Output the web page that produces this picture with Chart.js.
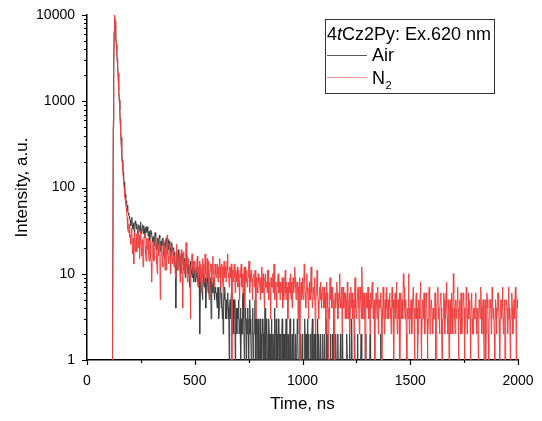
<!DOCTYPE html>
<html>
<head>
<meta charset="utf-8">
<script src="https://cdn.jsdelivr.net/npm/chart.js@4.4.1/dist/chart.umd.min.js"></script>
<style>
  html, body { margin: 0; padding: 0; background: #ffffff; }
  #wrap { width: 542px; height: 421px; position: relative; }
</style>
</head>
<body>
<div id="wrap"><canvas id="c"></canvas></div>
<script>
// ---- Data (photon counts per 2 ns channel) ----
const timeStepNs = 2;              // channel width; channel i is at time i * timeStepNs

const airCounts = [
  // 0-98 ns
  0,0,0,0,0,0,0,0,0,0,0,0,0,0,0,0,0,0,0,0,0,0,0,0,0,0,0,0,0,0,0,0,0,0,0,0,0,0,0,0,0,0,0,0,0,0,0,0,0,0,
  // 100-198 ns
  0,0,0,0,0,0,0,0,0,0,
  0,500,2300,6200,9600,8300,7000,5700,4600,3800,
  3100,2600,2100,1700,1350,1050,820,620,480,380,
  310,250,210,175,150,130,115,102,92,83,
  76,70,66,62,58,54,50,48,46,44,
  // 200-298
  42,38,36,40,45,37,33,35,39,34,30,36,41,38,35,33,38,31,28,34,
  37,35,33,30,40,36,29,31,34,37,31,29,36,33,26,30,33,35,30,32,
  35,31,27,30,31,28,24,29,32,30,
  // 300-398
  29,26,23,25,27,24,21,25,30,27,24,22,19,23,26,24,22,25,28,26,
  18,22,24,23,21,26,25,20,16,21,23,22,20,24,26,23,17,20,22,25,
  19,21,24,20,14,18,21,23,18,20,
  // 400-498
  20,17,15,18,18,12,4,11,17,15,13,16,19,15,12,14,16,13,10,12,
  14,16,17,14,11,13,15,12,9,11,13,15,16,12,10,13,12,9,7,11,
  14,12,11,10,9,12,13,11,8,10,
  // 500-598
  11,9,8,10,9,11,10,8,7,9,12,10,2,7,9,8,8,6,5,7,
  10,8,7,9,9,5,4,7,8,10,8,6,11,7,5,6,7,9,3,5,
  8,7,6,8,9,6,5,7,7,6,
  // 600-698
  6,5,4,6,7,5,3,4,5,7,8,5,4,6,3,4,2,5,6,5,
  7,4,3,5,3,4,6,5,4,3,1,4,5,3,4,6,3,2,4,5,
  2,3,5,4,1,3,4,3,2,4,
  // 700-798
  3,4,5,2,2,3,4,1,3,2,2,5,6,3,3,1,2,4,3,2,
  0,3,2,4,2,1,3,2,5,3,2,1,0,2,3,4,1,2,2,3,
  5,2,1,3,2,0,2,3,1,2,
  // 800-898
  1,2,3,1,2,0,1,3,2,2,0,1,2,4,2,1,3,2,0,1,
  2,1,3,2,1,0,2,1,3,2,0,2,1,1,2,4,1,0,2,3,
  1,2,1,0,3,2,1,2,0,2,
  // 900-998
  0,1,2,3,1,2,1,0,2,1,0,2,3,1,1,0,2,1,2,0,
  1,3,1,2,0,1,2,1,0,2,3,1,1,0,2,1,0,1,3,2,
  1,0,1,2,0,1,2,1,1,0,
  // 1000-1098
  2,1,0,1,1,3,2,0,1,2,1,0,3,1,2,0,1,1,0,2,
  1,0,2,3,1,0,1,2,0,1,2,1,0,0,1,3,1,0,2,1,
  0,1,2,1,0,1,0,2,1,0,
  // 1100-1198
  0,1,2,0,1,0,3,1,0,2,1,0,1,1,0,2,0,1,0,1,
  2,0,1,3,0,1,0,2,1,0,0,1,2,0,1,0,1,0,2,1,
  0,0,1,2,0,1,0,1,0,1,
  // 1200-1298
  1,0,0,2,1,0,1,0,0,1,2,0,1,0,3,1,0,0,1,0,
  1,2,0,0,1,0,1,0,2,0,1,0,0,1,0,1,2,0,0,1,
  0,1,0,0,1,0,2,0,1,0,
  // 1300-1398
  0,1,0,0,1,0,0,2,0,1,0,0,1,0,0,1,0,2,0,0,
  1,0,0,1,0,0,0,1,0,1,0,0,2,0,0,1,0,0,1,0,
  0,1,0,0,0,1,0,0,1,0,
  // 1400-1498
  0,0,1,0,0,0,1,0,0,0,0,1,0,0,1,0,0,0,0,1,0,0,0,1,0,0,0,0,1,0,0,1,0,0,0,0,0,1,0,0,0,1,0,0,0,0,1,0,0,0,
  // 1500-1598
  0,0,0,1,0,0,0,0,1,0,0,0,0,0,1,0,0,1,0,0,0,0,0,0,0,1,0,0,0,0,1,0,0,0,0,0,1,0,0,0,0,0,1,0,0,0,0,0,1,0,
  // 1600-1698
  0,1,0,0,0,0,0,1,0,0,0,0,0,1,0,0,0,0,0,1,0,0,0,0,1,0,0,0,0,0,0,1,0,0,0,0,1,0,0,0,0,0,0,0,1,0,0,0,0,1,
  // 1700-1798
  0,0,0,0,0,1,0,0,0,0,1,0,0,0,0,0,0,1,0,0,0,0,1,0,0,0,0,0,0,1,0,0,0,0,0,1,0,0,0,0,0,0,1,0,0,0,0,1,0,0,
  // 1800-1898
  0,0,0,0,1,0,0,0,0,0,0,1,0,0,0,0,1,0,0,0,0,0,0,0,0,1,0,0,0,0,1,0,0,0,0,0,0,0,1,0,0,0,0,1,0,0,0,0,0,0,
  // 1900-2000
  1,0,0,0,0,0,1,0,0,0,0,0,0,0,1,0,0,0,0,0,0,1,0,0,0,0,0,0,1,0,0,0,0,0,0,1,0,0,0,0,0,0,1,0,0,0,0,0,0,1,0
];

const n2Counts = [
  // 0-98 ns
  0,0,0,0,0,0,0,0,0,0,0,0,0,0,0,0,0,0,0,0,0,0,0,0,0,0,0,0,0,0,0,0,0,0,0,0,0,0,0,0,0,0,0,0,1,0,0,0,0,0,
  // 100-198 ns
  0,0,0,0,0,0,0,0,0,0,
  0,600,2500,6500,10000,8600,7200,5800,4700,3800,
  3100,2600,2100,1650,1300,1000,800,600,450,350,
  280,230,190,160,135,115,100,88,78,70,
  62,58,52,45,40,33,30,38,36,27,
  // 200-298
  28,24,22,31,34,19,17,26,25,13,30,27,21,18,26,29,18,23,32,20,
  24,28,15,22,27,31,20,16,23,25,12,19,25,28,29,21,17,14,22,26,
  19,23,26,17,14,20,21,24,15,13,
  // 300-398
  8,15,18,21,24,14,15,19,20,23,27,16,13,10,19,22,16,18,22,20,
  5,12,17,19,21,14,12,18,25,20,15,11,18,21,11,16,28,19,16,13,
  14,22,20,15,10,18,17,21,13,15,
  // 400-498
  19,14,12,16,15,10,9,14,22,17,14,11,11,15,17,13,8,12,16,19,
  13,9,4,12,18,15,10,13,14,17,23,16,12,8,9,14,15,12,11,9,
  3,10,13,16,17,12,10,14,12,11,
  // 500-598
  14,11,9,12,11,13,16,10,7,11,12,14,10,8,13,11,6,12,15,9,
  11,13,8,10,17,12,10,9,12,15,9,11,14,8,5,10,11,13,13,9,
  8,12,16,11,10,8,7,13,12,10,
  // 600-698
  9,11,13,10,8,12,11,9,15,12,7,10,10,13,12,8,6,11,14,10,
  9,12,11,8,8,14,17,11,10,9,7,12,12,10,9,13,0,8,11,9,
  8,12,13,9,6,11,10,8,9,12,
  // 700-798
  7,9,11,8,5,10,9,11,13,7,8,10,6,9,10,12,4,8,12,9,
  8,11,7,9,9,12,14,8,6,10,8,11,10,7,5,9,9,10,7,8,
  11,6,3,9,8,7,6,10,10,8,
  // 800-898
  7,9,5,8,9,6,12,8,6,10,8,5,4,9,10,7,7,8,6,11,
  11,8,5,7,8,6,3,9,9,7,7,10,6,8,13,9,5,7,8,6,
  4,8,7,9,10,6,6,8,5,7,
  // 900-998
  8,6,6,9,4,7,9,5,7,8,11,6,5,8,6,7,3,5,8,6,
  7,9,10,6,5,8,4,6,9,7,6,8,12,9,7,5,5,8,8,6,
  3,7,6,9,1,5,7,8,5,6,
  // 1000-1098
  9,6,5,7,13,8,6,4,4,7,10,6,7,5,3,6,8,5,5,7,
  12,8,6,4,4,7,7,5,9,6,2,5,6,8,11,6,5,4,3,6,
  7,5,8,6,4,5,6,7,5,4,
  // 1100-1198
  7,5,4,6,2,5,8,6,5,4,1,4,3,6,9,5,5,7,4,6,
  7,5,4,3,1,5,6,4,5,7,8,6,3,5,4,6,10,5,5,4,
  6,7,2,4,7,5,4,6,5,3,
  // 1200-1298
  6,5,4,3,8,5,3,4,5,6,2,4,7,5,4,6,6,3,5,4,
  1,6,9,5,4,3,3,5,6,7,5,4,2,6,7,5,4,3,12,6,
  3,4,5,6,4,3,1,5,6,4,
  // 1300-1398
  4,5,7,3,3,5,5,2,6,4,4,6,8,5,3,4,5,3,1,4,
  4,6,6,3,3,7,2,5,5,4,4,6,6,3,0,4,3,7,4,5,
  2,4,5,3,6,4,7,3,4,5,
  // 1400-1498
  3,5,6,4,4,3,2,5,7,4,5,3,1,4,4,6,3,5,8,4,
  2,4,5,3,4,6,0,3,6,4,3,5,4,3,10,7,7,4,3,5,
  5,2,1,4,4,3,10,6,2,4,
  // 1500-1598
  3,4,5,2,2,4,4,7,7,3,1,4,3,5,6,3,4,1,2,4,
  5,4,3,6,8,3,0,2,4,5,3,4,6,5,2,3,4,6,5,3,
  1,2,3,5,7,4,2,3,4,5,
  // 1600-1698
  5,3,2,4,4,3,3,6,6,1,1,4,4,5,7,4,3,3,2,4,
  5,6,4,2,0,3,3,4,6,5,2,3,4,6,8,4,3,2,5,4,
  1,3,4,5,2,3,6,4,3,2,
  // 1700-1798
  10,6,4,3,2,4,5,3,3,5,7,4,1,3,4,5,3,2,6,4,
  2,3,4,6,5,4,0,2,3,4,7,5,2,3,4,6,3,4,5,3,
  1,4,6,5,3,2,2,4,4,3,
  // 1800-1898
  3,5,6,3,2,4,4,3,1,3,5,4,3,5,7,4,2,3,4,5,
  3,2,0,4,5,1,2,4,6,5,4,2,1,3,3,5,5,4,2,3,
  7,5,3,4,4,2,1,3,5,4,
  // 1900-2000
  2,3,4,6,6,4,3,1,1,4,5,3,3,5,7,4,2,3,4,5,
  0,3,3,5,5,4,2,3,7,5,4,3,1,3,3,5,6,4,2,3,
  4,5,3,4,7,5,1,3,5,4,4
];

const seriesNames = ['Air', 'N2'];
const n2LabelParts = { main: 'N', sub: '2' };
const legendTitleParts = [
  { text: '4', italic: false },
  { text: 't', italic: true },
  { text: 'Cz2Py: Ex.620 nm', italic: false }
];
const xTickValues = [0, 500, 1000, 1500, 2000];
const xMinorTickValues = [250, 750, 1250, 1750];
const yTickValues = [1, 10, 100, 1000, 10000];
const xTitle = 'Time, ns';
const yTitle = 'Intensity, a.u.';

// ---- build chart data ----
// zero counts cannot sit on a log axis: send them just below the floor (clipped), as the original plot does
const ZERO_FLOOR = 0.5;
const asPoints = arr => arr.map((v, i) => ({ x: i * timeStepNs, y: v === 0 ? ZERO_FLOOR : v }));

const FONT = '"Liberation Sans", Arial, Helvetica, sans-serif';
const AIR_COLOR = 'rgb(62,62,62)';
const N2_COLOR = 'rgb(240,64,64)';

const tickPlugin = {
  id: 'manualTicks',
  afterDraw(chart) {
    const ctx = chart.ctx;
    const xs = chart.scales.x, ys = chart.scales.y;
    const ca = chart.chartArea;
    ctx.save();
    ctx.strokeStyle = '#000';
    ctx.lineWidth = 1.2;
    ctx.beginPath();
    xTickValues.forEach(v => {
      const px = Math.round(xs.getPixelForValue(v)) + 0.5;
      ctx.moveTo(px, ca.bottom); ctx.lineTo(px, ca.bottom + 5);
    });
    xMinorTickValues.forEach(v => {
      const px = Math.round(xs.getPixelForValue(v)) + 0.5;
      ctx.moveTo(px, ca.bottom); ctx.lineTo(px, ca.bottom + 3);
    });
    yTickValues.forEach((dec, k) => {
      const py = Math.round(ys.getPixelForValue(dec)) + 0.5;
      ctx.moveTo(ca.left, py); ctx.lineTo(ca.left - 5, py);
      if (k < yTickValues.length - 1) {
        for (let m = 2; m <= 9; m++) {
          const pm = Math.round(ys.getPixelForValue(dec * m)) + 0.5;
          ctx.moveTo(ca.left, pm); ctx.lineTo(ca.left - 3, pm);
        }
      }
    });
    ctx.stroke();
    ctx.restore();
  }
};

const legendPlugin = {
  id: 'boxLegend',
  afterDraw(chart, args, o) {
    const ctx = chart.ctx;
    ctx.save();
    ctx.strokeStyle = '#333';
    ctx.lineWidth = 1;
    ctx.strokeRect(o.left + 0.5, o.top + 0.5, o.width, o.height);
    ctx.fillStyle = '#000';
    ctx.textBaseline = 'alphabetic';
    ctx.textAlign = 'left';
    let x = o.left + 2;
    legendTitleParts.forEach(seg => {
      ctx.font = (seg.italic ? 'italic ' : '') + o.fontSize + 'px ' + FONT;
      ctx.fillText(seg.text, x, o.titleBaseline);
      x += ctx.measureText(seg.text).width;
    });
    const ds = chart.data.datasets;
    ds.forEach((d, i) => {
      const ly = o.rowLines[i];
      ctx.strokeStyle = d.legendLineColor || d.borderColor;
      ctx.lineWidth = 1;
      ctx.beginPath();
      ctx.moveTo(o.left + 2, ly + 0.5);
      ctx.lineTo(o.left + 2 + o.lineLen, ly + 0.5);
      ctx.stroke();
      const tx = o.left + 2 + o.lineLen + o.gap;
      ctx.fillStyle = '#000';
      ctx.font = o.fontSize + 'px ' + FONT;
      if (d.label === 'N2') {
        ctx.fillText(n2LabelParts.main, tx, o.rowBaselines[i]);
        const w = ctx.measureText(n2LabelParts.main).width;
        ctx.font = Math.round(o.fontSize * 0.62) + 'px ' + FONT;
        ctx.fillText(n2LabelParts.sub, tx + w + 0.5, o.rowBaselines[i] + 5);
      } else {
        ctx.fillText(d.label, tx, o.rowBaselines[i]);
      }
    });
    ctx.restore();
  }
};

new Chart(document.getElementById('c'), {
  type: 'line',
  data: {
    datasets: [
      { label: seriesNames[0], data: asPoints(airCounts), borderColor: AIR_COLOR,
        borderWidth: 1, pointRadius: 0, tension: 0, order: 1, legendLineColor: 'rgb(90,90,90)' },
      { label: seriesNames[1], data: asPoints(n2Counts), borderColor: N2_COLOR,
        borderWidth: 1, pointRadius: 0, tension: 0, order: 0, legendLineColor: 'rgb(246,150,150)' }
    ]
  },
  options: {
    responsive: true,
    maintainAspectRatio: false,
    animation: false,
    events: [],
    layout: { padding: { top: 15, right: 24, left: 0, bottom: 0 } },
    plugins: {
      legend: { display: false },
      tooltip: { enabled: false },
      boxLegend: {
        left: 325, top: 19, width: 169, height: 74,
        fontSize: 18, titleBaseline: 40, rowBaselines: [61, 84], rowLines: [55, 77],
        lineLen: 40, gap: 5
      }
    },
    scales: {
      x: {
        type: 'linear', min: 0, max: 2000,
        afterFit: s => { s.height = 61; },
        border: { display: true, color: '#000', width: 1.5 },
        grid: { display: true, drawOnChartArea: false, drawTicks: true, tickLength: 6, tickColor: 'rgba(0,0,0,0)' },
        ticks: {
          stepSize: 500, autoSkip: false, maxRotation: 0, padding: 7,
          color: '#000', font: { family: FONT, size: 14 },
          callback: v => (xTickValues.includes(v) ? String(v) : '')
        },
        title: { display: true, text: xTitle, color: '#000', font: { family: FONT, size: 17 }, padding: { top: 0, bottom: 6 } }
      },
      y: {
        type: 'logarithmic', min: 1, max: 10000,
        afterFit: s => { s.width = 87; },
        border: { display: true, color: '#000', width: 1.5 },
        grid: { display: true, drawOnChartArea: false, drawTicks: true, tickLength: 6, tickColor: 'rgba(0,0,0,0)' },
        ticks: {
          autoSkip: false, padding: 6,
          color: '#000', font: { family: FONT, size: 14 },
          callback: v => (yTickValues.includes(v) ? String(v) : '')
        },
        title: { display: true, text: yTitle, color: '#000', font: { family: FONT, size: 17 }, padding: { top: 12, bottom: 0 } }
      }
    }
  },
  plugins: [tickPlugin, legendPlugin]
});
</script>
</body>
</html>
